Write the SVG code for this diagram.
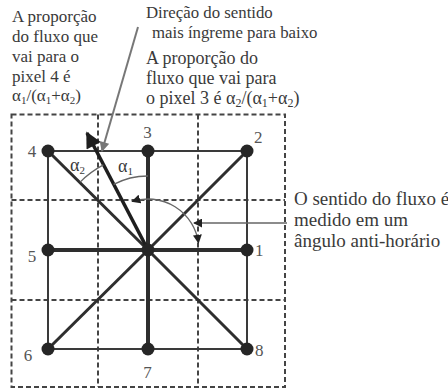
<svg xmlns="http://www.w3.org/2000/svg" width="448" height="390" viewBox="0 0 448 390">
<defs>
<style>
text{font-family:"Liberation Serif","DejaVu Serif","Noto Serif",serif;font-size:17px;fill:#3a3a3a}
.num{fill:#555;font-size:17px}
.big text{font-size:19px}
.mid text{font-size:18px}
.top text{font-size:16.8px}
text.al{font-size:18px}
.dash{stroke:#444;stroke-width:2;stroke-dasharray:5 3;fill:none}
.edge{stroke:#3a3a3a;stroke-width:2;fill:none}
.diag{stroke:#2e2e2e;stroke-width:3;fill:none}
.ortho{stroke:#2e2e2e;stroke-width:4;fill:none}
.thin{stroke:#666;stroke-width:1.3;fill:none}
.dot{fill:#262626}
.sub{font-size:11px}
.mid .sub{font-size:12px}
</style>
<marker id="blk" viewBox="0 0 10 10" refX="9" refY="5" markerWidth="9" markerHeight="9" markerUnits="userSpaceOnUse" orient="auto-start-reverse"><path d="M0,0 L10,5 L0,10 z" fill="#222"/></marker>
<marker id="big" viewBox="0 0 10 10" refX="9" refY="5" markerWidth="19" markerHeight="16" markerUnits="userSpaceOnUse" orient="auto"><path d="M0,0 L10,5 L0,10 z" fill="#1e1e1e"/></marker>
<marker id="gry" viewBox="0 0 10 10" refX="9" refY="5" markerWidth="12" markerHeight="10" markerUnits="userSpaceOnUse" orient="auto"><path d="M0,0 L10,5 L0,10 z" fill="#777"/></marker>
</defs>
<g id="grid">
<rect class="dash" x="11.5" y="114.5" width="273.5" height="272.5"/>
<line class="dash" x1="98" y1="114.5" x2="98" y2="387"/>
<line class="dash" x1="198" y1="114.5" x2="198" y2="387"/>
<line class="dash" x1="11.5" y1="200" x2="285" y2="200"/>
<line class="dash" x1="11.5" y1="300" x2="285" y2="300"/>
</g>
<g id="connectors">
<path class="edge" d="M48,151 L247,151 L247,349 L48,349 Z"/>
<line class="diag" x1="148" y1="250" x2="48" y2="151"/>
<line class="diag" x1="148" y1="250" x2="247" y2="151"/>
<line class="diag" x1="148" y1="250" x2="48" y2="349"/>
<line class="diag" x1="148" y1="250" x2="247" y2="349"/>
<line class="ortho" x1="148" y1="151" x2="148" y2="349"/>
<line class="ortho" x1="48" y1="250" x2="247" y2="250"/>
<line id="steepest" stroke="#1e1e1e" stroke-width="3.5" x1="148" y1="250" x2="87" y2="133" marker-end="url(#big)"/>
<line id="leader-top" stroke="#777" stroke-width="2" x1="138" y1="27" x2="102" y2="151" marker-end="url(#gry)"/>
<path id="alpha1-arc" class="thin" d="M148,176 A74,74 0 0 0 113.6,184.4"/>
<path id="alpha2-arc" class="thin" d="M103.4,164.9 A96,96 0 0 0 80.1,182.1"/>
<path id="angle-arc" class="thin" d="M198.5,242.9 A51,51 0 0 0 132.2,201.5" marker-start="url(#blk)" marker-end="url(#blk)"/>
<line id="leader-right" class="thin" x1="287" y1="223" x2="194" y2="223" marker-end="url(#blk)"/>
</g>
<g id="n4"><circle class="dot" cx="48" cy="151" r="6.5"/><text class="num" x="32" y="157" text-anchor="middle">4</text></g>
<g id="n3"><circle class="dot" cx="148" cy="151" r="6.5"/><text class="num" x="147.5" y="138" text-anchor="middle">3</text></g>
<g id="n2"><circle class="dot" cx="247" cy="151" r="6.5"/><text class="num" x="254" y="143">2</text></g>
<g id="n5"><circle class="dot" cx="48" cy="250" r="6.5"/><text class="num" x="32" y="262" text-anchor="middle">5</text></g>
<g id="n0"><circle class="dot" cx="148" cy="250" r="6.5"/></g>
<g id="n1"><circle class="dot" cx="247" cy="250" r="6.5"/><text class="num" x="255" y="256">1</text></g>
<g id="n6"><circle class="dot" cx="48" cy="349" r="6.5"/><text class="num" x="28" y="361" text-anchor="middle">6</text></g>
<g id="n7"><circle class="dot" cx="148" cy="349" r="6.5"/><text class="num" x="147.5" y="378" text-anchor="middle">7</text></g>
<g id="n8"><circle class="dot" cx="247" cy="349" r="6.5"/><text class="num" x="255" y="356">8</text></g>
<g id="alpha-labels">
<text class="al" x="70" y="171">α<tspan class="sub" dy="3">2</tspan></text>
<text class="al" x="118" y="172">α<tspan class="sub" dy="3">1</tspan></text>
</g>
<g id="label-left">
<text x="12" y="22">A proporção</text>
<text x="12" y="42">do fluxo que</text>
<text x="12" y="62">vai para o</text>
<text x="12" y="82">pixel 4 é</text>
<text x="12" y="101">α<tspan class="sub" dy="3">1</tspan><tspan dy="-3">/(α</tspan><tspan class="sub" dy="3">1</tspan><tspan dy="-3">+α</tspan><tspan class="sub" dy="3">2</tspan><tspan dy="-3">)</tspan></text>
</g>
<g id="label-top" class="top">
<text x="146" y="18">Direção do sentido</text>
<text x="152" y="38">mais íngreme para baixo</text>
</g>
<g id="label-middle" class="mid">
<text x="146" y="64">A proporção do</text>
<text x="146" y="84">fluxo que vai para</text>
<text x="146" y="104">o pixel 3 é α<tspan class="sub" dy="3">2</tspan><tspan dy="-3">/(α</tspan><tspan class="sub" dy="3">1</tspan><tspan dy="-3">+α</tspan><tspan class="sub" dy="3">2</tspan><tspan dy="-3">)</tspan></text>
</g>
<g id="label-right" class="big">
<text x="294" y="205">O sentido do fluxo é</text>
<text x="294" y="226">medido em um</text>
<text x="294" y="247">ângulo anti-horário</text>
</g>
</svg>
